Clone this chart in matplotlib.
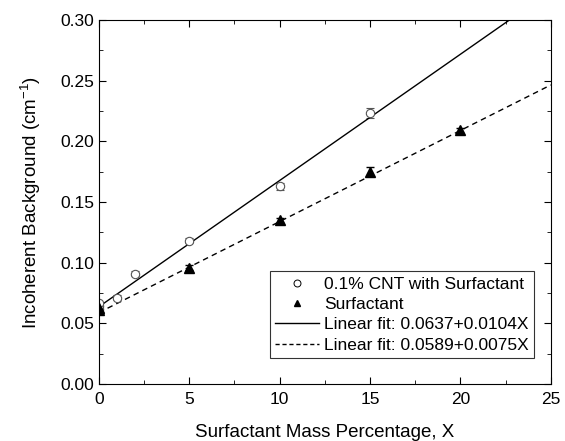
import numpy as np
import matplotlib
matplotlib.use('Agg')
import matplotlib.pyplot as plt
from matplotlib.lines import Line2D

plt.rcParams['font.family'] = ['Liberation Sans', 'DejaVu Sans']
plt.rcParams['mathtext.default'] = 'regular'

# Data
cnt_x = [0, 0, 0, 1, 2, 5, 10, 15]
cnt_y = [0.062, 0.064, 0.067, 0.071, 0.091, 0.118, 0.163, 0.223]
cnt_err = [0.001, 0.001, 0.001, 0.002, 0.002, 0.002, 0.003, 0.004]

surf_x = [0, 0, 5, 10, 15, 20]
surf_y = [0.061, 0.063, 0.096, 0.135, 0.175, 0.209]
surf_err = [0.001, 0.001, 0.002, 0.002, 0.004, 0.002]

fit1 = (0.0637, 0.0104)
fit2 = (0.0589, 0.0075)

fig = plt.figure(figsize=(5.65, 4.41), dpi=100)
ax = fig.add_axes([0.175, 0.129, 0.8, 0.826])

xf = np.linspace(0, 25, 100)
ax.errorbar(cnt_x, cnt_y, yerr=cnt_err, fmt='o', mfc='white', mec='#555555',
            ecolor='#555555', ms=6, mew=0.8, capsize=3, elinewidth=0.8)
ax.errorbar(surf_x, surf_y, yerr=surf_err, fmt='^', color='black',
            ms=6.5, capsize=3, elinewidth=0.8)
ax.plot(xf, fit1[0] + fit1[1] * xf, 'k-', lw=1)
ax.plot(xf, fit2[0] + fit2[1] * xf, 'k--', lw=1, dashes=(4, 3))

ax.set_xlim(0, 25)
ax.set_ylim(0, 0.30)
ax.set_xticks([0, 5, 10, 15, 20, 25])
ax.set_yticks(np.arange(0, 0.301, 0.05))
ax.set_yticklabels(['%.2f' % v for v in np.arange(0, 0.301, 0.05)])
ax.set_xticks(np.arange(0, 25.1, 2.5), minor=True)
ax.set_yticks(np.arange(0, 0.301, 0.025), minor=True)
ax.tick_params(which='both', direction='in', top=True, right=True, labelsize=12.5)
ax.tick_params(which='major', length=5)
ax.tick_params(which='minor', length=3)
ax.tick_params(axis='x', pad=6)

ax.set_xlabel('Surfactant Mass Percentage, X', fontsize=13.5, labelpad=12)
ax.set_ylabel('Incoherent Background (cm$^{-1}$)', fontsize=13.5, labelpad=12)

handles = [
    Line2D([], [], ls='none', marker='o', mfc='white', mec='black', ms=5, mew=0.7),
    Line2D([], [], ls='none', marker='^', color='black', ms=5),
    Line2D([], [], color='black', lw=1),
    Line2D([], [], color='black', lw=1, ls='--', dashes=(3, 2)),
]
labels = ['0.1% CNT with Surfactant', 'Surfactant',
          'Linear fit: 0.0637+0.0104X', 'Linear fit: 0.0589+0.0075X']
leg = ax.legend(handles, labels, loc='lower right', bbox_to_anchor=(0.962, 0.072),
                fontsize=12.5, frameon=True, fancybox=False, edgecolor='black',
                handlelength=2.5, borderpad=0.3, labelspacing=0.3,
                handletextpad=0.3, borderaxespad=0)
leg.get_frame().set_linewidth(0.8)

plt.savefig('out.png', dpi=100)
